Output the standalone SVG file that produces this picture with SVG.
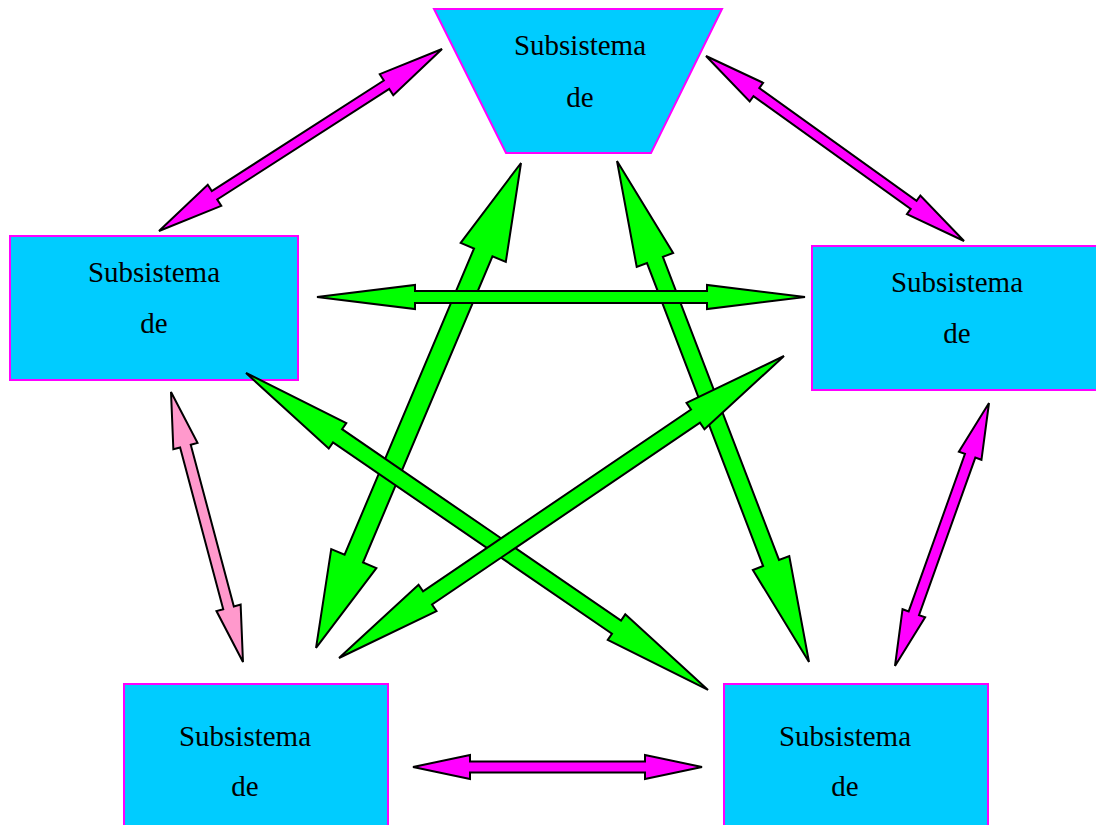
<svg xmlns="http://www.w3.org/2000/svg" width="1096" height="825" viewBox="0 0 1096 825">
<style>
.node{fill:#00CCFF;stroke:#FF00FF;stroke-width:2}
.lbl{font-family:"Liberation Serif","Times New Roman",serif;font-size:29px;fill:#000;text-anchor:middle}
.arr{stroke:#000;stroke-width:2;stroke-linejoin:miter}
.g{fill:#00FF00}
.m{fill:#FF00FF}
.p{fill:#FF99CC}
</style>
<rect width="1096" height="825" fill="#fff"/>
<g id="top"><polygon class="node" points="434,9 722,9 651,153 506,153"/><text class="lbl" x="580" y="55">Subsistema</text><text class="lbl" x="580" y="107">de</text></g>
<g id="left"><rect class="node" x="10" y="236" width="288" height="144"/><text class="lbl" x="154" y="282">Subsistema</text><text class="lbl" x="154" y="333">de</text></g>
<g id="right"><rect class="node" x="812" y="246" width="300" height="144"/><text class="lbl" x="957" y="292">Subsistema</text><text class="lbl" x="957" y="343">de</text></g>
<g id="bottomleft"><rect class="node" x="124" y="684" width="264" height="160"/><text class="lbl" x="245" y="746">Subsistema</text><text class="lbl" x="245" y="796">de</text></g>
<g id="bottomright"><rect class="node" x="724" y="684" width="264" height="160"/><text class="lbl" x="845" y="746">Subsistema</text><text class="lbl" x="845" y="796">de</text></g>
<g id="connectors">
<!-- top-left magenta -->
<polygon class="arr m" transform="translate(159,231) rotate(-32.74)" points="0,0 66,-12.5 66,-5 270.5,-5 270.5,-12.5 336.5,0 270.5,12.5 270.5,5 66,5 66,12.5"/>
<!-- top-right magenta -->
<polygon class="arr m" transform="translate(706,56) rotate(35.64)" points="0,0 62,-11.5 62,-5 255.5,-5 255.5,-11.5 317.5,0 255.5,11.5 255.5,5 62,5 62,11.5"/>
<!-- left pink -->
<polygon class="arr p" transform="translate(171,392) rotate(75.07)" points="0,0 56,-12.5 56,-5.5 223.4,-5.5 223.4,-12.5 279.4,0 223.4,12.5 223.4,5.5 56,5.5 56,12.5"/>
<!-- right magenta -->
<polygon class="arr m" transform="translate(989,403) rotate(109.67)" points="0,0 56,-12 56,-5.5 223.3,-5.5 223.3,-12 279.3,0 223.3,12 223.3,5.5 56,5.5 56,12"/>
<!-- bottom magenta -->
<polygon class="arr m" transform="translate(413,767)" points="0,0 57,-12 57,-5.5 232,-5.5 232,-12 289,0 232,12 232,5.5 57,5.5 57,12"/>
<!-- green 1 -->
<polygon class="arr g" transform="translate(521,163) rotate(112.91)" points="0,0 97,-24.5 97,-10 429.5,-10 429.5,-24.5 526.5,0 429.5,24.5 429.5,10 97,10 97,24.5"/>
<!-- green 4 -->
<polygon class="arr g" transform="translate(617,161) rotate(69.03)" points="0,0 106,-19.5 106,-8.5 430.5,-8.5 430.5,-19.5 536.5,0 430.5,19.5 430.5,8.5 106,8.5 106,19.5"/>
<!-- green 3 -->
<polygon class="arr g" transform="translate(246,373) rotate(34.45)" points="0,0 111,-15.5 111,-8 449.3,-8 449.3,-15.5 560.3,0 449.3,15.5 449.3,8 111,8 111,15.5"/>
<!-- green 2 -->
<polygon class="arr g" transform="translate(339,658) rotate(-34.16)" points="0,0 107,-16 107,-8 430.8,-8 430.8,-16 537.8,0 430.8,16 430.8,8 107,8 107,16"/>
<!-- horizontal green -->
<polygon class="arr g" transform="translate(317,297)" points="0,0 98,-12 98,-6 390,-6 390,-12 488,0 390,12 390,6 98,6 98,12"/>
</g>
</svg>
